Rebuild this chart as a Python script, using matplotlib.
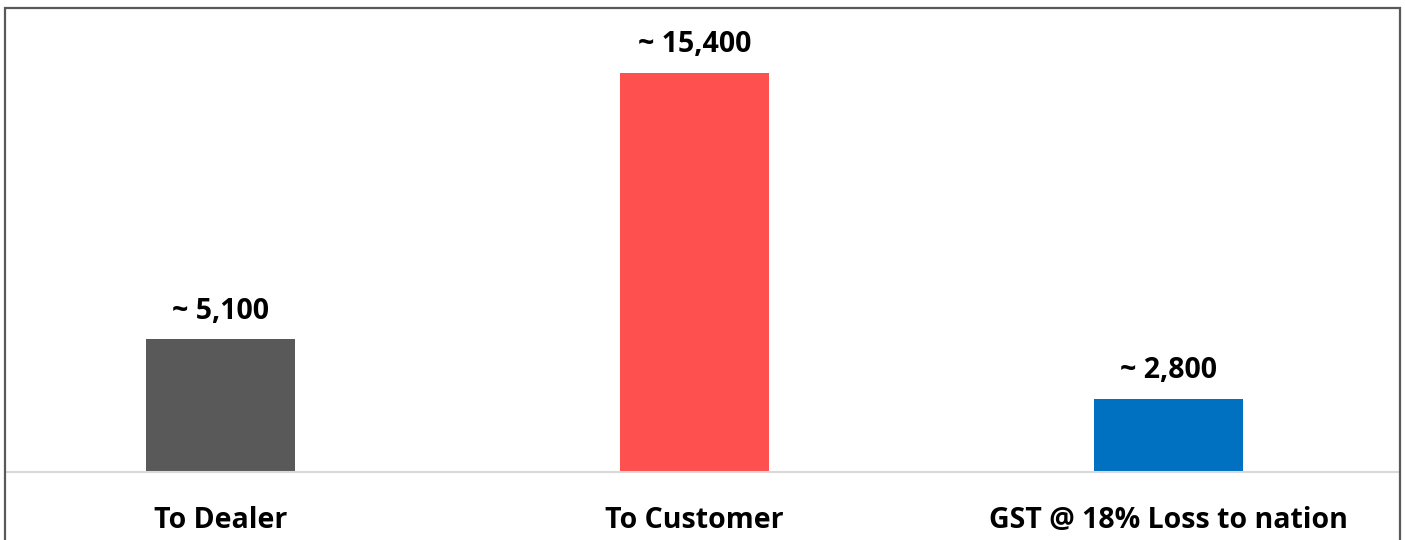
import matplotlib
matplotlib.use("Agg")
import matplotlib.pyplot as plt
from matplotlib.patches import Rectangle

categories = ["To Dealer", "To Customer", "GST @ 18% Loss to nation"]
values = [5100, 15400, 2800]
value_labels = ["~ 5,100", "~ 15,400", "~ 2,800"]
colors = ["#595959", "#FF5050", "#0070C0"]

W, H = 1405, 540
plt.rcParams["font.family"] = ["Open Sans", "DejaVu Sans"]

fig = plt.figure(figsize=(W / 100, H / 100), dpi=100)
fig.patch.set_facecolor("white")

left_px, right_px, top_px, base_px = 5, 1400, 8, 471.5
ax = fig.add_axes([left_px / W, (H - base_px) / H,
                   (right_px - left_px) / W, (base_px - top_px) / H])

x = list(range(len(categories)))
ax.bar(x, values, width=0.315, color=colors, zorder=2)

for xi, v, lab in zip(x, values, value_labels):
    ax.annotate(lab, (xi, v), xytext=(0, 10), textcoords="offset points",
                ha="center", va="bottom", fontsize=20.5, fontweight="bold",
                color="black")

ax.set_xlim(-0.454, 2.489)
ax.set_ylim(0, 17900)
ax.set_yticks([])
ax.set_xticks(x)
ax.set_xticklabels(categories, fontsize=20.5, fontweight="bold", color="black")
ax.tick_params(axis="x", length=0, pad=24.5)

for side in ("left", "right", "top"):
    ax.spines[side].set_visible(False)
ax.spines["bottom"].set_color("#D9D9D9")
ax.spines["bottom"].set_linewidth(1.5)
ax.spines["bottom"].set_zorder(3)

# outer frame, open at the bottom edge of the image
frame = Rectangle((left_px / W, -0.2), (right_px - left_px) / W,
                  (H - top_px) / H + 0.2, transform=fig.transFigure,
                  fill=False, edgecolor="#595959", linewidth=1.6,
                  clip_on=False)
fig.patches.append(frame)

fig.savefig("out.png", dpi=100)
